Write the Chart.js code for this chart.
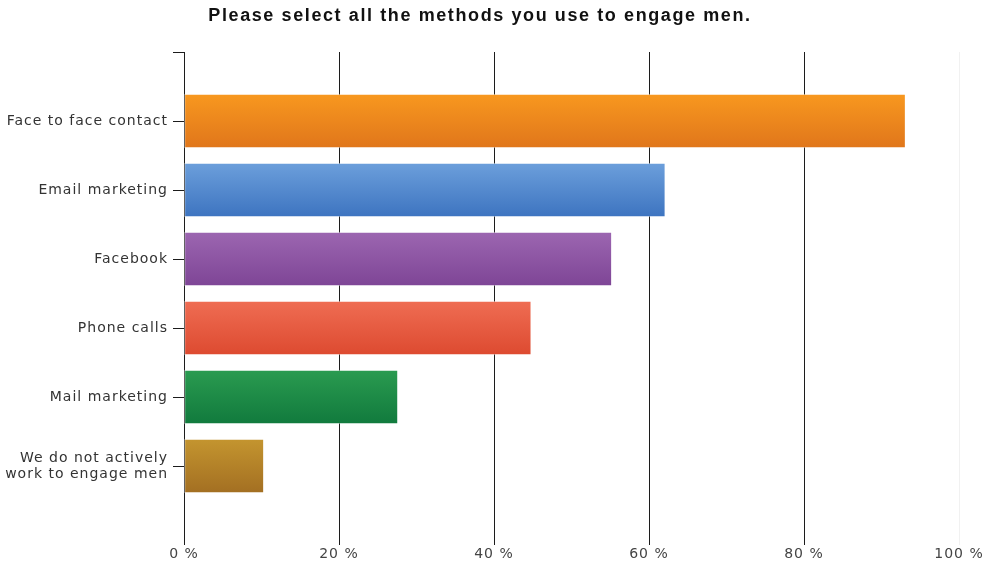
<!DOCTYPE html>
<html>
<head>
<meta charset="utf-8">
<title>Methods used to engage men</title>
<script src="https://cdn.jsdelivr.net/npm/chart.js@4/dist/chart.umd.min.js"></script>
<style>
  html, body { margin: 0; padding: 0; background: #ffffff; }
  #wrap { width: 984px; height: 563px; }
</style>
</head>
<body>
<div id="wrap"><canvas id="chart" width="984" height="563"></canvas></div>
<script>
// Survey question and answer options
const chartTitle = 'Please select all the methods you use to engage men.';
const categories = [
  'Face to face contact',
  'Email marketing',
  'Facebook',
  'Phone calls',
  'Mail marketing',
  ['We do not actively', 'work to engage men']
];
// Share of respondents choosing each option (%)
const percentages = [93.1, 62.1, 55.2, 44.8, 27.6, 10.3];
// Percentage axis ticks
const xTickValues = [0, 20, 40, 60, 80, 100];

// Bar shading: lighter at the top edge, darker at the bottom edge
const topColors    = ['#f8981f', '#6c9fdb', '#9c66b1', '#ef6d53', '#2a9b50', '#c4952f'];
const bottomColors = ['#e0761b', '#3d74c0', '#7e4596', '#dd4a30', '#117a3d', '#a36f22'];

// An empty slot above and below the answers gives the axis its head and foot room
const labels = [''].concat(categories, ['']);
const values = [null].concat(percentages, [null]);

function barFill(ctx) {
  const k = ctx.dataIndex - 1;
  if (k < 0 || k >= percentages.length) return 'rgba(0,0,0,0)';
  const chart = ctx.chart;
  const ys = chart.scales && chart.scales.y;
  if (!ys || !chart.chartArea) return topColors[k];
  const c = ys.getPixelForValue(ctx.dataIndex);
  const g = chart.ctx.createLinearGradient(0, c - 27, 0, c + 27);
  g.addColorStop(0, topColors[k]);
  g.addColorStop(1, bottomColors[k]);
  return g;
}

// Slightly open letter spacing for all axis text
const spacingPlugin = {
  id: 'textSpacing',
  beforeDraw(chart) { chart.ctx.letterSpacing = '1px'; }
};

// Title drawn over the plot
const titlePlugin = {
  id: 'surveyTitle',
  afterDraw(chart) {
    const ctx = chart.ctx;
    ctx.save();
    ctx.letterSpacing = '1.6px';
    ctx.font = 'bold 18px "Liberation Sans", Arial, sans-serif';
    ctx.fillStyle = '#111111';
    ctx.textAlign = 'center';
    ctx.textBaseline = 'middle';
    ctx.fillText(chartTitle, 480, 16);
    ctx.restore();
  }
};

new Chart(document.getElementById('chart'), {
  type: 'bar',
  data: {
    labels: labels,
    datasets: [{
      data: values,
      backgroundColor: barFill,
      borderColor: 'rgba(255,255,255,0.45)',
      borderWidth: 1,
      borderSkipped: false,
      barThickness: 54
    }]
  },
  options: {
    indexAxis: 'y',
    responsive: false,
    animation: false,
    devicePixelRatio: 1,
    layout: { padding: { top: 52, right: 25, left: 0, bottom: 0 } },
    plugins: {
      legend: { display: false },
      tooltip: { enabled: false },
      title: { display: false }
    },
    scales: {
      x: {
        type: 'linear',
        position: 'bottom',
        min: 0,
        max: 100,
        afterBuildTicks: (scale) => { scale.ticks = xTickValues.map(v => ({ value: v })); },
        ticks: {
          color: '#444444',
          font: { family: '"DejaVu Sans", sans-serif', size: 14 },
          padding: 1,
          maxRotation: 0,
          callback: (v) => v + ' %'
        },
        grid: {
          color: (ctx) => (ctx.tick && ctx.tick.value === 100) ? '#f1f1f1' : '#1c1c1c',
          lineWidth: 1,
          tickLength: 10
        },
        border: { display: false },
        afterFit: (scale) => { scale.height = 28; }
      },
      y: {
        type: 'category',
        offset: false,
        ticks: {
          color: '#333333',
          font: { family: '"DejaVu Sans", sans-serif', size: 14, lineHeight: 1.15 },
          padding: 5,
          autoSkip: false
        },
        grid: {
          offset: false,
          drawOnChartArea: false,
          drawTicks: true,
          tickLength: 11,
          color: (ctx) => ctx.index === labels.length - 1 ? 'rgba(0,0,0,0)' : '#1c1c1c'
        },
        border: { display: false },
        afterFit: (scale) => { scale.width = 184; }
      }
    }
  },
  plugins: [spacingPlugin, titlePlugin]
});
</script>
</body>
</html>
